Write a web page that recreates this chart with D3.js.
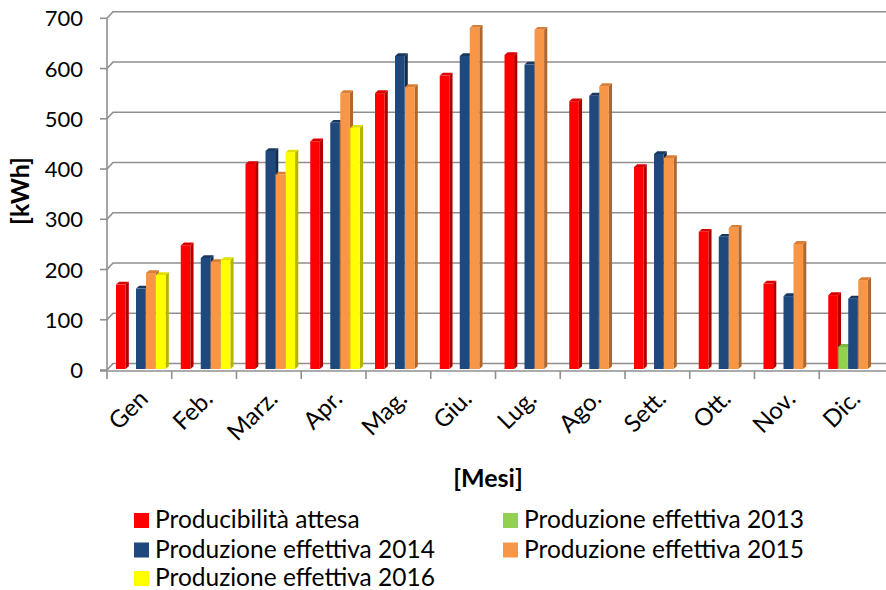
<!DOCTYPE html>
<html>
<head>
<meta charset="utf-8">
<script src="https://cdn.jsdelivr.net/npm/d3@7"></script>
<style>
  body { margin: 0; background: #fff; }
  text { font-family: Lato, "Open Sans", sans-serif; fill: #000; }
</style>
</head>
<body>
<div id="chart"></div>
<script>
// data
const months = ["Gen", "Feb.", "Marz.", "Apr.", "Mag.", "Giu.", "Lug.", "Ago.", "Sett.", "Ott.", "Nov.", "Dic."];
const attesa = [170, 248, 410, 455, 551, 586, 627, 535, 404, 275, 172, 149];
const prod2013 = [null, null, null, null, null, null, null, null, null, null, null, 46];
const prod2014 = [162, 223, 436, 492, 625, 625, 608, 546, 430, 265, 147, 142];
const prod2015 = [193, 215, 389, 551, 563, 681, 677, 565, 422, 283, 251, 179];
const prod2016 = [189, 219, 433, 482, null, null, null, null, null, null, null, null];
const yTicks = [0, 100, 200, 300, 400, 500, 600, 700];

const series = [
  {name: "Producibilità attesa", values: attesa, color: "#FF0000", side: "#B00000"},
  {name: "Produzione effettiva 2013", values: prod2013, color: "#92D050", side: "#669437"},
  {name: "Produzione effettiva 2014", values: prod2014, color: "#1F497D", side: "#132D4E"},
  {name: "Produzione effettiva 2015", values: prod2015, color: "#F79646", side: "#B0662C"},
  {name: "Produzione effettiva 2016", values: prod2016, color: "#FFFF00", side: "#B5B500"}
];

const W = 886, H = 590;
const svg = d3.select("#chart").append("svg")
    .attr("width", W)
    .attr("height", H);

const x = d3.scaleBand()
    .domain(months)
    .range([107, 884])
    .paddingInner(0).paddingOuter(0);

const xs = d3.scaleBand()
    .domain(series.map(s => s.name))
    .range([9, 59]);

const y = d3.scaleLinear()
    .domain([0, 700])
    .range([370, 18.3]);

// depth offset for the 3d look
const dx = 6, dy = -6.5;
const gridColor = "#8f8f8f";

// gridlines on back wall
svg.append("g")
    .selectAll("path")
    .data(yTicks)
    .join("path")
        .attr("d", d => `M107,${y(d)} L${107 + dx},${y(d) + dy} H886`)
        .attr("fill", "none")
        .attr("stroke", gridColor)
        .attr("stroke-width", 1.6);

// left axis
svg.append("line")
    .attr("x1", 107).attr("x2", 107)
    .attr("y1", y(700)).attr("y2", y(0))
    .attr("stroke", gridColor).attr("stroke-width", 1.6);

svg.append("g")
    .selectAll("line")
    .data(yTicks)
    .join("line")
        .attr("x1", 100).attr("x2", 107)
        .attr("y1", d => y(d)).attr("y2", d => y(d))
        .attr("stroke", gridColor).attr("stroke-width", 1.6);

svg.append("g")
    .selectAll("text")
    .data(yTicks)
    .join("text")
        .attr("x", 83)
        .attr("y", d => y(d) + 8)
        .attr("text-anchor", "end")
        .style("font-size", "22px")
        .text(d => d);

// floor front line and x ticks
svg.append("line")
    .attr("x1", 100).attr("x2", 886)
    .attr("y1", y(0) + 1).attr("y2", y(0) + 1)
    .attr("stroke", gridColor).attr("stroke-width", 1.6);

svg.append("g")
    .selectAll("line")
    .data(months)
    .join("line")
        .attr("x1", d => x(d)).attr("x2", d => x(d))
        .attr("y1", y(0) + 1).attr("y2", y(0) + 9)
        .attr("stroke", gridColor).attr("stroke-width", 1.6);

// bars
const bw = 9.6, bdx = 3.2, bdy = -2.8;
const bars = [];
months.forEach((m, i) => {
  series.forEach(s => {
    if (s.values[i] != null) bars.push({m: m, s: s, v: s.values[i]});
  });
});

const bar = svg.append("g")
    .selectAll("g")
    .data(bars)
    .join("g")
        .attr("transform", d => `translate(${x(d.m) + xs(d.s.name)},0)`);

const base = y(0) - 1;
bar.append("path")
    .attr("d", d => `M${bw},${y(d.v)} L${bw + bdx},${y(d.v) + bdy} L${bw + bdx},${base + bdy} L${bw},${base} Z`)
    .attr("fill", d => d.s.side);

bar.append("path")
    .attr("d", d => `M0,${y(d.v)} L${bdx},${y(d.v) + bdy} L${bw + bdx},${y(d.v) + bdy} L${bw},${y(d.v)} Z`)
    .attr("fill", d => d3.color(d.s.side).brighter(0.6));

bar.append("rect")
    .attr("x", 0)
    .attr("y", d => y(d.v))
    .attr("width", bw)
    .attr("height", d => base - y(d.v))
    .attr("fill", d => d.s.color);

// month labels
svg.append("g")
    .selectAll("text")
    .data(months)
    .join("text")
        .attr("transform", d => `translate(${x(d) + x.bandwidth() / 2 - 2},${388}) rotate(-45)`)
        .attr("text-anchor", "end")
        .attr("dy", "0.72em")
        .style("font-size", "24px")
        .text(d => d);

// axis titles
svg.append("text")
    .attr("transform", "translate(29,191) rotate(-90)")
    .attr("text-anchor", "middle")
    .style("font-size", "25px")
    .style("font-weight", "bold")
    .text("[kWh]");

svg.append("text")
    .attr("x", 488)
    .attr("y", 487)
    .attr("text-anchor", "middle")
    .style("font-size", "25px")
    .style("font-weight", "bold")
    .text("[Mesi]");

// legend
const legendPos = [[134, 513], [503, 513], [134, 542.5], [503, 542.5], [134, 571]];
const legend = svg.append("g")
    .selectAll("g")
    .data(series)
    .join("g")
        .attr("transform", (d, i) => `translate(${legendPos[i][0]},${legendPos[i][1]})`);

legend.append("rect")
    .attr("width", 15).attr("height", 15)
    .attr("fill", d => d.color);

legend.append("text")
    .attr("x", 21)
    .attr("y", 15)
    .style("font-size", "24.5px")
    .text(d => d.name);
</script>
</body>
</html>
